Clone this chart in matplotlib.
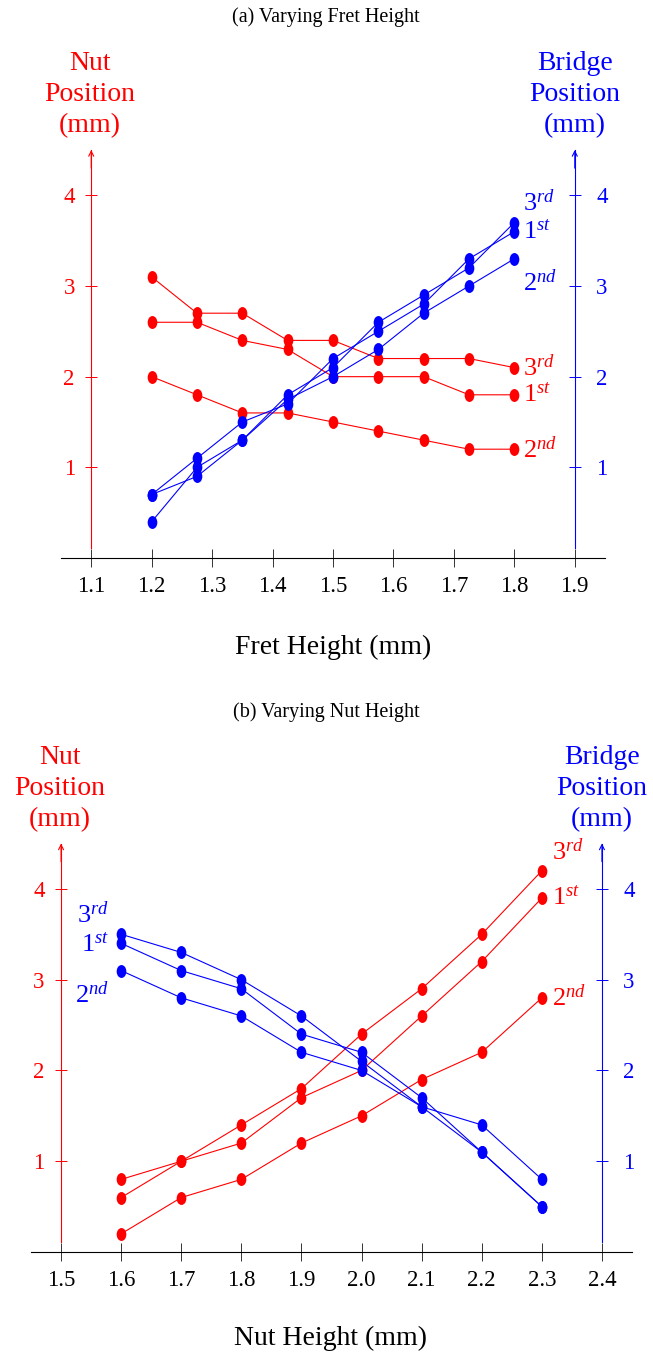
import matplotlib
matplotlib.use('Agg')
import matplotlib.pyplot as plt
from matplotlib.path import Path
from matplotlib.transforms import Affine2D

# ---------------- data ----------------
fret_height = [1.2, 1.275, 1.35, 1.425, 1.5, 1.575, 1.65, 1.725, 1.8]
fret_nut_1st = [2.6, 2.6, 2.4, 2.3, 2.0, 2.0, 2.0, 1.8, 1.8]
fret_nut_2nd = [2.0, 1.8, 1.6, 1.6, 1.5, 1.4, 1.3, 1.2, 1.2]
fret_nut_3rd = [3.1, 2.7, 2.7, 2.4, 2.4, 2.2, 2.2, 2.2, 2.1]
fret_bridge_1st = [0.7, 1.1, 1.5, 1.7, 2.2, 2.5, 2.8, 3.3, 3.6]
fret_bridge_2nd = [0.4, 1.0, 1.3, 1.75, 2.0, 2.3, 2.7, 3.0, 3.3]
fret_bridge_3rd = [0.7, 0.9, 1.3, 1.8, 2.1, 2.6, 2.9, 3.2, 3.7]
fret_xticks = [1.1, 1.2, 1.3, 1.4, 1.5, 1.6, 1.7, 1.8, 1.9]
fret_xticklabels = ['1.1', '1.2', '1.3', '1.4', '1.5', '1.6', '1.7', '1.8', '1.9']

nut_height = [1.6, 1.7, 1.8, 1.9, 2.0, 2.1, 2.2, 2.3]
nutv_nut_1st = [0.8, 1.0, 1.2, 1.7, 2.0, 2.6, 3.2, 3.9]
nutv_nut_2nd = [0.2, 0.6, 0.8, 1.2, 1.5, 1.9, 2.2, 2.8]
nutv_nut_3rd = [0.6, 1.0, 1.4, 1.8, 2.4, 2.9, 3.5, 4.2]
nutv_bridge_1st = [3.4, 3.1, 2.9, 2.4, 2.2, 1.7, 1.1, 0.5]
nutv_bridge_2nd = [3.1, 2.8, 2.6, 2.2, 2.0, 1.6, 1.4, 0.8]
nutv_bridge_3rd = [3.5, 3.3, 3.0, 2.6, 2.1, 1.6, 1.1, 0.5]
nut_xticks = [1.5, 1.6, 1.7, 1.8, 1.9, 2.0, 2.1, 2.2, 2.3, 2.4]
nut_xticklabels = ['1.5', '1.6', '1.7', '1.8', '1.9', '2.0', '2.1', '2.2', '2.3', '2.4']

yticks = [1, 2, 3, 4]
yticklabels = ['1', '2', '3', '4']
string_names = ['1st', '2nd', '3rd']
ordinal_text = {'1st': r'$1^{st}$', '2nd': r'$2^{nd}$', '3rd': r'$3^{rd}$'}

# ---------------- style ----------------
plt.rcParams['font.family'] = ['Liberation Serif', 'DejaVu Serif']
plt.rcParams['mathtext.fontset'] = 'custom'
plt.rcParams['mathtext.rm'] = 'Liberation Serif'
plt.rcParams['mathtext.it'] = 'Liberation Serif:italic'
plt.rcParams['mathtext.bf'] = 'Liberation Serif:bold'

RED = '#ff0000'
BLUE = '#0000ff'
W, H = 653, 1355
fig = plt.figure(figsize=(W / 100, H / 100), dpi=100)


def fx(px):
    return px / W


def fy(py):
    return 1 - py / H


ellipse = Path.unit_circle().transformed(Affine2D().scale(0.75, 1.0))


def panel(rect, xlim, xticks, xticklabels, xs, nut, bridge,
          nut_lab, bridge_lab):
    ax = fig.add_axes(rect)
    ax.set_xlim(*xlim)
    ax.set_ylim(0, 4.5)
    ax2 = ax.twinx()
    ax2.set_ylim(0, 4.5)
    ax.patch.set_visible(False)
    ax2.patch.set_visible(False)
    for s in ['top', 'right']:
        ax.spines[s].set_visible(False)
    for s in ['top', 'left', 'bottom']:
        ax2.spines[s].set_visible(False)

    ax.spines['bottom'].set_linewidth(0.8)
    ax.spines['left'].set_position(('data', xticks[0]))
    ax.spines['left'].set_bounds(0.11, 4.5)
    ax.spines['left'].set_color(RED)
    ax.spines['left'].set_linewidth(0.8)
    ax2.spines['right'].set_position(('data', xticks[-1]))
    ax2.spines['right'].set_bounds(0.11, 4.5)
    ax2.spines['right'].set_color(BLUE)
    ax2.spines['right'].set_linewidth(0.8)

    ax.set_xticks(xticks)
    ax.set_xticklabels(xticklabels)
    ax.tick_params(axis='x', direction='inout', length=13.5, width=0.7,
                   color='#333333', labelsize=16.5, pad=6.5, labelcolor='black')
    ax.set_yticks(yticks)
    ax.set_yticklabels(yticklabels)
    ax.tick_params(axis='y', direction='inout', length=8.6, width=0.7,
                   color=RED, labelcolor=RED, labelsize=16.5, pad=7.5)
    ax2.set_yticks(yticks)
    ax2.set_yticklabels(yticklabels)
    ax2.tick_params(axis='y', direction='inout', length=8.6, width=0.7,
                    color=BLUE, labelcolor=BLUE, labelsize=16.5, pad=11)

    # arrow heads on the vertical axes
    for a, xv, c in [(ax, xticks[0], RED), (ax2, xticks[-1], BLUE)]:
        a.annotate('', xy=(xv, 4.5), xytext=(xv, 4.3),
                   arrowprops=dict(arrowstyle='->', color=c, lw=0.8,
                                   mutation_scale=9, shrinkA=0, shrinkB=0),
                   annotation_clip=False)

    for name in string_names:
        ax.plot(xs, nut[name], color=RED, lw=0.8, marker=ellipse,
                markersize=9.3, markeredgewidth=0, clip_on=False)
        ax2.plot(xs, bridge[name], color=BLUE, lw=0.8, marker=ellipse,
                 markersize=9.3, markeredgewidth=0, clip_on=False, zorder=3)

    for a, series, cfg, col in [(ax, nut, nut_lab, RED),
                                (ax2, bridge, bridge_lab, BLUE)]:
        idx, dx, ha, dys = cfg
        for name in string_names:
            a.annotate(ordinal_text[name], xy=(xs[idx], series[name][idx]),
                       xytext=(dx, dys[name]), textcoords='offset points',
                       ha=ha, va='center', color=col, fontsize=19,
                       annotation_clip=False)
    return ax, ax2


# ---------------- panel (a) ----------------
fig.text(fx(326), fy(17), '(a) Varying Fret Height', ha='center',
         va='center', fontsize=14.5)
panel([fx(61), fy(558), fx(605) - fx(61), fy(150) - fy(558)],
      (1.05, 1.95), fret_xticks, fret_xticklabels, fret_height,
      {'1st': fret_nut_1st, '2nd': fret_nut_2nd, '3rd': fret_nut_3rd},
      {'1st': fret_bridge_1st, '2nd': fret_bridge_2nd, '3rd': fret_bridge_3rd},
      (-1, 6, 'left', {'1st': 0, '2nd': 0, '3rd': 0}),
      (-1, 6, 'left', {'1st': 0, '2nd': -17, '3rd': 14}))
fig.text(fx(90), fy(95), 'Nut\nPosition\n(mm)', ha='center', va='center',
         color=RED, fontsize=20, linespacing=1.32)
fig.text(fx(575), fy(95), 'Bridge\nPosition\n(mm)', ha='center', va='center',
         color=BLUE, fontsize=20, linespacing=1.32)
fig.text(fx(333), fy(647), 'Fret Height (mm)', ha='center', va='center',
         fontsize=20)

# ---------------- panel (b) ----------------
fig.text(fx(326), fy(712), '(b) Varying Nut Height', ha='center',
         va='center', fontsize=14.5)
panel([fx(31), fy(1252), fx(632) - fx(31), fy(843.5) - fy(1252)],
      (1.45, 2.45), nut_xticks, nut_xticklabels, nut_height,
      {'1st': nutv_nut_1st, '2nd': nutv_nut_2nd, '3rd': nutv_nut_3rd},
      {'1st': nutv_bridge_1st, '2nd': nutv_bridge_2nd, '3rd': nutv_bridge_3rd},
      (-1, 7.5, 'left', {'1st': 0, '2nd': 0, '3rd': 14}),
      (0, -9, 'right', {'1st': -1, '2nd': -17, '3rd': 14}))
fig.text(fx(60), fy(789), 'Nut\nPosition\n(mm)', ha='center', va='center',
         color=RED, fontsize=20, linespacing=1.32)
fig.text(fx(602), fy(789), 'Bridge\nPosition\n(mm)', ha='center', va='center',
         color=BLUE, fontsize=20, linespacing=1.32)
fig.text(fx(331), fy(1338), 'Nut Height (mm)', ha='center', va='center',
         fontsize=20)

fig.savefig('out.png', dpi=100)
